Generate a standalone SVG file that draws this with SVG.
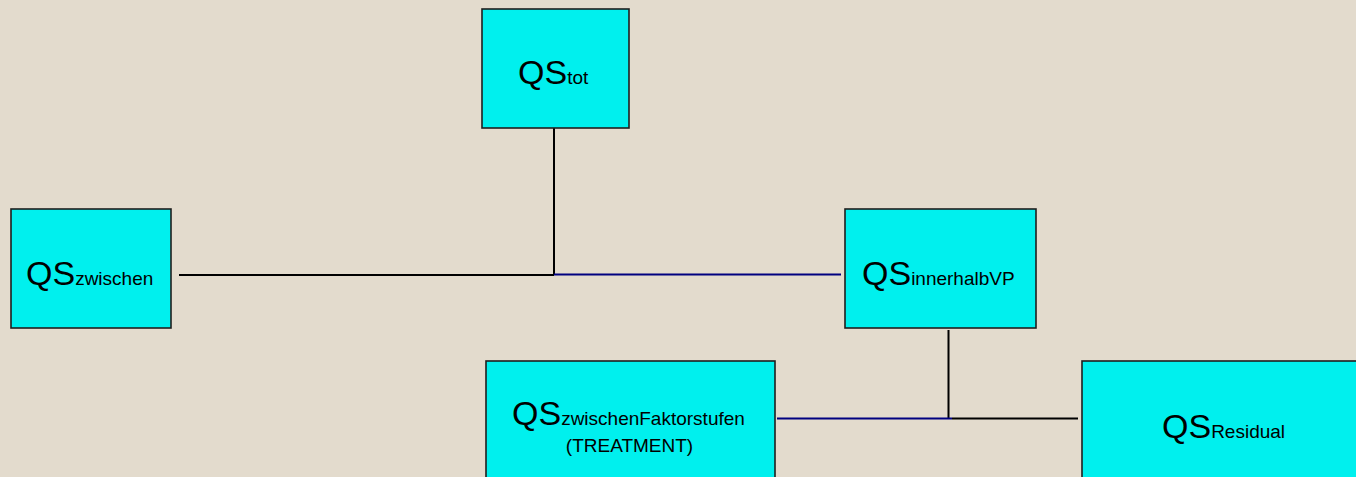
<svg xmlns="http://www.w3.org/2000/svg" width="1356" height="477" viewBox="0 0 1356 477">
<style>
.box{fill:#00f0ee;stroke:#1e1e1e;stroke-width:1.6}
.t{font-family:"Liberation Sans",Arial,sans-serif;fill:#000}
.big{font-size:34px}
.sub{font-size:19px}
.blk{stroke:#000;stroke-width:2;fill:none}
.nav{stroke:#000080;stroke-width:2.2;fill:none}
</style>
<rect width="1356" height="477" fill="#e3dbcd"/>
<g id="connectors">
<path class="blk" d="M554,128 V275 M179,275 H554"/>
<path class="nav" d="M554,274.5 H841"/>
<path class="blk" d="M948.5,330 V418.5 M952,418.5 H1078"/>
<path class="nav" d="M777,418.5 H952"/>
</g>
<g id="qs-tot">
<rect class="box" x="482" y="9" width="147" height="119"/>
<text class="t big" x="518" y="84">QS<tspan class="sub">tot</tspan></text>
</g>
<g id="qs-zwischen">
<rect class="box" x="11" y="209" width="160" height="119"/>
<text class="t big" x="26" y="285">QS<tspan class="sub">zwischen</tspan></text>
</g>
<g id="qs-innerhalb">
<rect class="box" x="845" y="209" width="191" height="119"/>
<text class="t big" x="862" y="285">QS<tspan class="sub">innerhalbVP</tspan></text>
</g>
<g id="qs-faktor">
<rect class="box" x="486" y="361" width="289" height="130"/>
<text class="t big" x="512" y="425">QS<tspan class="sub">zwischenFaktorstufen</tspan></text>
<text class="t sub" x="629.5" y="452" text-anchor="middle">(TREATMENT)</text>
</g>
<g id="qs-residual">
<rect class="box" x="1082" y="361" width="290" height="130"/>
<text class="t big" x="1162" y="438">QS<tspan class="sub">Residual</tspan></text>
</g>
</svg>
